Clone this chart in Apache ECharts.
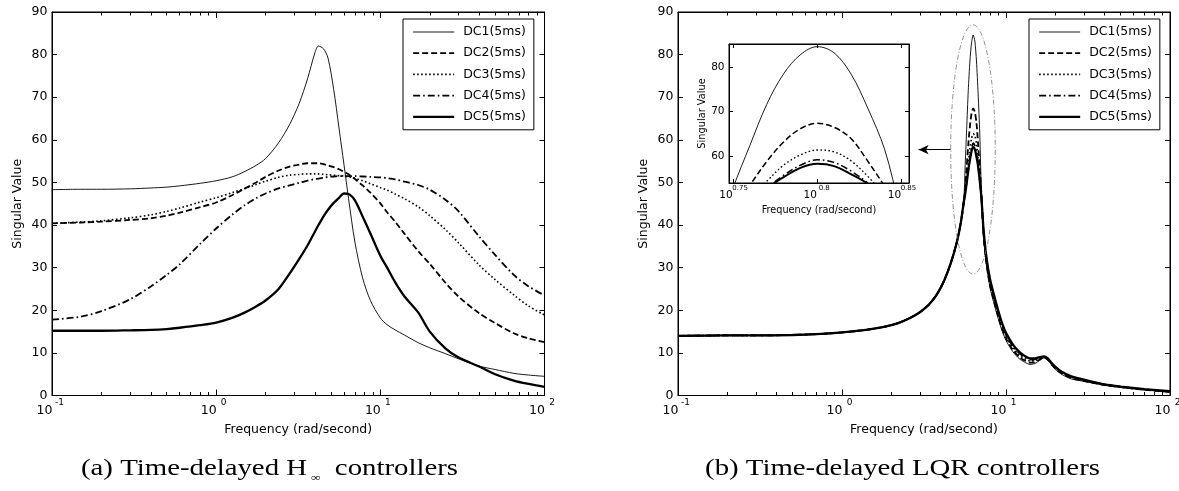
<!DOCTYPE html>
<html><head><meta charset="utf-8">
<script src="https://cdn.jsdelivr.net/npm/echarts@6/dist/echarts.min.js"></script>
<style>html,body{margin:0;padding:0;background:#fff}#c{width:1179px;height:491px}</style>
</head><body><div id="c"></div>
<script>
// ---------------- data ----------------
const seriesNames = ['DC1(5ms)', 'DC2(5ms)', 'DC3(5ms)', 'DC4(5ms)', 'DC5(5ms)'];

// (a) time-delayed H-infinity controllers
const freqA = [0.1, 0.15, 0.2, 0.3, 0.4, 0.5, 0.6, 0.8, 1, 1.25, 1.5, 1.75, 2, 2.4, 2.8, 3.2, 3.6, 4, 4.2, 4.5, 4.8, 5.2, 5.6, 6, 6.4, 7, 7.8, 8.7, 10, 11, 12.3, 14, 17, 20, 25, 30, 40, 50, 65, 80, 100];
const dc1A = [48.3, 48.4, 48.4, 48.5, 48.7, 48.9, 49.2, 49.8, 50.4, 51.3, 52.6, 54.0, 55.6, 59.3, 63.6, 68.5, 74.3, 80.5, 82.0, 81.4, 79.2, 71.8, 62.8, 54.3, 46.3, 36.0, 27.6, 22.3, 18.2, 16.6, 15.4, 14.2, 12.4, 11.2, 9.8, 8.6, 6.9, 6.1, 5.2, 4.8, 4.5];
const dc2A = [40.4, 40.6, 40.8, 41.2, 41.6, 42.2, 42.9, 44.2, 45.3, 47.0, 48.6, 50.0, 51.3, 52.8, 53.7, 54.2, 54.5, 54.5, 54.5, 54.3, 54.0, 53.6, 53.1, 52.5, 51.9, 50.8, 49.3, 47.6, 45.1, 43.0, 40.8, 38.0, 33.9, 30.9, 26.4, 23.2, 19.3, 17.0, 14.6, 13.4, 12.5];
const dc3A = [40.4, 40.7, 41.0, 41.7, 42.4, 43.2, 44.0, 45.4, 46.4, 47.6, 48.6, 49.5, 50.3, 51.2, 51.7, 51.9, 52.0, 52.0, 52.0, 51.9, 51.8, 51.7, 51.6, 51.5, 51.3, 51.0, 50.4, 49.7, 48.8, 48.2, 47.3, 46.2, 44.3, 42.2, 38.9, 35.8, 30.6, 27.2, 23.6, 21.0, 18.9];
const dc4A = [17.8, 18.5, 19.8, 22.6, 25.6, 28.3, 30.8, 35.6, 39.2, 42.4, 44.7, 46.3, 47.4, 48.6, 49.3, 49.9, 50.4, 50.8, 50.9, 51.1, 51.3, 51.4, 51.5, 51.5, 51.5, 51.5, 51.4, 51.3, 51.2, 51.0, 50.7, 50.2, 49.4, 48.3, 45.9, 43.2, 37.3, 33.0, 28.3, 25.6, 23.5];
const dc5A = [15.2, 15.2, 15.2, 15.3, 15.4, 15.6, 15.9, 16.5, 17.1, 18.2, 19.5, 20.9, 22.3, 25.0, 28.6, 32.0, 35.2, 38.5, 40.0, 42.0, 43.6, 45.2, 46.4, 47.4, 47.3, 45.8, 42.0, 38.0, 32.8, 30.0, 26.6, 23.3, 19.5, 15.0, 11.0, 8.9, 6.8, 5.0, 3.5, 2.7, 2.0];

// (b) time-delayed LQR controllers
const freqB = [0.1, 0.2, 0.3, 0.5, 0.7, 1, 1.4, 1.8, 2.2, 2.6, 3, 3.4, 3.8, 4.2, 4.6, 5, 5.3, 5.559, 5.623, 5.754, 5.888, 6.026, 6.166, 6.310, 6.457, 6.607, 6.761, 6.918, 7.079, 7.3, 7.6, 8, 8.5, 9, 9.5, 10, 11, 12, 13, 14, 15, 16, 17, 18, 19, 20, 22, 25, 30, 40, 50, 70, 100];
const dc1B = [14.0, 14.1, 14.1, 14.2, 14.4, 14.8, 15.4, 16.1, 17.0, 18.2, 19.6, 21.4, 23.8, 27.0, 31.0, 35.8, 40.5, 47.5, 52.9, 62.4, 71.6, 78.5, 82.8, 84.6, 83.2, 78.5, 70.8, 61.6, 48.0, 37.0, 30.5, 25.2, 21.2, 17.8, 15.0, 12.9, 10.3, 8.7, 7.8, 7.3, 7.5, 8.2, 8.8, 8.3, 7.1, 6.1, 4.9, 3.9, 3.3, 2.4, 1.9, 1.3, 0.8];
const dc2B = [14.0, 14.1, 14.1, 14.2, 14.4, 14.8, 15.4, 16.1, 17.0, 18.2, 19.6, 21.4, 23.8, 27.0, 31.0, 35.8, 40.5, 46.0, 48.3, 53.5, 58.8, 63.2, 66.2, 67.4, 66.5, 64.0, 58.9, 53.3, 47.5, 37.5, 31.0, 25.8, 21.8, 18.3, 15.5, 13.4, 10.7, 9.1, 8.2, 7.7, 7.8, 8.4, 8.9, 8.4, 7.3, 6.3, 5.1, 4.1, 3.4, 2.45, 1.95, 1.35, 0.85];
const dc3B = [14.0, 14.1, 14.1, 14.2, 14.4, 14.8, 15.4, 16.1, 17.0, 18.2, 19.6, 21.4, 23.8, 27.0, 31.0, 35.8, 40.5, 46.0, 47.6, 51.0, 54.4, 58.0, 60.3, 61.4, 61.0, 59.0, 55.5, 51.2, 47.0, 38.0, 31.5, 26.3, 22.3, 18.8, 16.0, 13.9, 11.2, 9.6, 8.6, 8.1, 8.2, 8.7, 9.0, 8.5, 7.4, 6.5, 5.3, 4.3, 3.5, 2.5, 2.0, 1.4, 0.9];
const dc4B = [14.0, 14.1, 14.1, 14.2, 14.4, 14.8, 15.4, 16.1, 17.0, 18.2, 19.6, 21.4, 23.8, 27.0, 31.0, 35.8, 40.5, 46.0, 47.2, 50.0, 53.0, 55.7, 58.0, 59.2, 58.6, 56.7, 54.0, 50.5, 46.5, 38.4, 32.0, 26.8, 22.8, 19.3, 16.4, 14.3, 11.6, 10.0, 9.0, 8.4, 8.5, 8.9, 9.1, 8.6, 7.5, 6.6, 5.4, 4.4, 3.6, 2.55, 2.05, 1.45, 0.95];
const dc5B = [14.0, 14.1, 14.1, 14.2, 14.4, 14.8, 15.4, 16.1, 17.0, 18.2, 19.6, 21.4, 23.8, 27.0, 31.0, 35.8, 40.5, 46.0, 47.0, 49.8, 52.8, 55.3, 57.4, 58.3, 57.8, 56.0, 53.8, 50.4, 46.5, 38.8, 32.4, 27.2, 23.2, 19.7, 16.8, 14.7, 12.0, 10.3, 9.3, 8.7, 8.7, 9.0, 9.2, 8.7, 7.6, 6.7, 5.5, 4.5, 3.7, 2.6, 2.1, 1.5, 1.0];

// axes / ticks
const xMajorTicks = [0.1, 1, 10, 100];
const xMinorTicks = [0.2, 0.3, 0.4, 0.5, 0.6, 0.7, 0.8, 0.9, 2, 3, 4, 5, 6, 7, 8, 9, 20, 30, 40, 50, 60, 70, 80, 90];
const insetXExponents = [0.75, 0.8, 0.85];
const insetXLogRange = [0.7476, 0.8545];
const insetYTicks = [60, 70, 80];
const insetYRange = [54, 85.2];

// annotations (data coordinates of chart b)
const ellipseSpec = { fLeft: 4.6, fRight: 8.6, vBottom: 28.5, vTop: 87 };
const arrowSpec = { fFrom: 4.6, fTo: 2.93, v: 57.7 };

const xTitle = 'Frequency (rad/second)';
const yTitle = 'Singular Value';
const captionA = ['(a) Time-delayed H', '∞', '  controllers'];
const captionB = '(b) Time-delayed LQR controllers';

// ---------------- chart ----------------
const FONT = 'DejaVu Sans';
const BLACK = '#000';
const lineStyles = [
  { width: 0.9, type: 'solid' },
  { width: 1.8, type: [6, 3] },
  { width: 1.6, type: [1.6, 2.4] },
  { width: 1.8, type: [7, 3, 1.6, 3] },
  { width: 2.3, type: 'solid' }
];
const setsA = [dc1A, dc2A, dc3A, dc4A, dc5A];
const setsB = [dc1B, dc2B, dc3B, dc4B, dc5B];
const pairs = (fr, vals) => fr.map((f, i) => [f, vals[i]]);

function supLabel(v) {
  const e = Math.round(Math.log10(v) * 100) / 100;
  return '{b|10}{e|' + e + '}';
}
const mainRich = {
  b: { fontSize: 12.5, fontFamily: FONT, color: BLACK, width: 15, align: 'right', lineHeight: 24 },
  e: { fontSize: 9, fontFamily: FONT, color: BLACK, width: 15, align: 'left', lineHeight: 9, verticalAlign: 'top' }
};
const insetRich = {
  b: { fontSize: 10.5, fontFamily: FONT, color: BLACK, width: 14, align: 'right', lineHeight: 22 },
  e: { fontSize: 7, fontFamily: FONT, color: BLACK, width: 14, align: 'left', lineHeight: 7, verticalAlign: 'top' }
};
const titleStyle = (size) => ({ fontSize: size, fontFamily: FONT, color: BLACK });

function xAxisSet(gridIndex, min, max, majors, minors, rich, margin, nameGap, nameSize, majLen, minLen) {
  const base = {
    type: 'log', logBase: 10, gridIndex, min, max,
    splitLine: { show: false }, minorTick: { show: false }, minorSplitLine: { show: false },
    axisLine: { show: true, onZero: false, lineStyle: { color: BLACK, width: 1 } }
  };
  const out = [];
  out.push(Object.assign({}, base, {
    position: 'bottom',
    axisTick: { show: true, inside: true, length: majLen, customValues: majors, lineStyle: { color: BLACK, width: 1 } },
    axisLabel: { show: true, customValues: majors, formatter: supLabel, rich, margin },
    name: xTitle, nameLocation: 'middle', nameGap, nameTextStyle: titleStyle(nameSize)
  }));
  out.push(Object.assign({}, base, {
    position: 'top',
    axisTick: { show: true, inside: true, length: majLen, customValues: majors, lineStyle: { color: BLACK, width: 1 } },
    axisLabel: { show: false }
  }));
  if (minors) {
    ['bottom', 'top'].forEach(p => out.push(Object.assign({}, base, {
      position: p,
      axisLine: { show: false, onZero: false },
      axisTick: { show: true, inside: true, length: minLen, customValues: minors, lineStyle: { color: BLACK, width: 1 } },
      axisLabel: { show: false }
    })));
  }
  return out;
}
function yAxisSet(gridIndex, min, max, interval, customTicks, fontSize, nameGap, nameSize, len) {
  const base = {
    type: 'value', gridIndex, min, max,
    splitLine: { show: false },
    axisLine: { show: true, onZero: false, lineStyle: { color: BLACK, width: 1 } },
    axisTick: { show: true, inside: true, length: len, lineStyle: { color: BLACK, width: 1 } }
  };
  if (interval) base.interval = interval;
  if (customTicks) base.axisTick.customValues = customTicks;
  const left = Object.assign({}, base, {
    position: 'left',
    axisLabel: { show: true, fontSize, fontFamily: FONT, color: BLACK, margin: 4.5 },
    name: yTitle, nameLocation: 'middle', nameGap, nameTextStyle: titleStyle(nameSize)
  });
  if (customTicks) left.axisLabel.customValues = customTicks;
  const right = Object.assign({}, base, { position: 'right', axisLabel: { show: false } });
  return [left, right];
}

const xAxes = [].concat(
  xAxisSet(0, 0.1, 100, xMajorTicks, xMinorTicks, mainRich, 3, 28, 12.5, 6, 3.5),          // 0..3
  xAxisSet(1, 0.1, 100, xMajorTicks, xMinorTicks, mainRich, 3, 28, 12.5, 6, 3.5),          // 4..7
  xAxisSet(2, Math.pow(10, insetXLogRange[0]), Math.pow(10, insetXLogRange[1]),
           insetXExponents.map(e => Math.pow(10, e)), null, insetRich, 1.5, 22, 9.7, 4, 0)   // 8..9
);
const yAxes = [].concat(
  yAxisSet(0, 0, 90, 10, null, 12.5, 28, 12.5, 5),       // 0,1
  yAxisSet(1, 0, 90, 10, null, 12.5, 28, 12.5, 5),       // 2,3
  yAxisSet(2, insetYRange[0], insetYRange[1], null, insetYTicks, 10.5, 20, 9.8, 4) // 4,5
);

const grids = [
  { left: 52, top: 12, width: 492.5, height: 383.5 },
  { left: 678, top: 12, width: 492, height: 383.5 },
  { left: 729, top: 44, width: 180, height: 139, backgroundColor: '#fff' }
].map(g => Object.assign({ show: true, borderColor: BLACK, borderWidth: 1, backgroundColor: 'transparent', containLabel: false, outerBoundsMode: 'none' }, g));

const series = [];
const order = [4, 3, 2, 1, 0];
order.forEach(i => {
  series.push({
    name: seriesNames[i], type: 'line', xAxisIndex: 0, yAxisIndex: 0,
    data: pairs(freqA, setsA[i]), symbol: 'none', showSymbol: false, smooth: 0.3,
    lineStyle: Object.assign({ color: BLACK }, lineStyles[i]), itemStyle: { color: BLACK },
    silent: true, emphasis: { disabled: true }
  });
});
order.forEach(i => {
  const s = {
    name: seriesNames[i], type: 'line', xAxisIndex: 4, yAxisIndex: 2,
    data: pairs(freqB, setsB[i]), symbol: 'none', showSymbol: false, smooth: 0.25,
    lineStyle: Object.assign({ color: BLACK }, lineStyles[i]), itemStyle: { color: BLACK },
    silent: true, emphasis: { disabled: true }
  };
  if (i === 0) {
    s.markLine = {
      silent: true, symbol: ['none', 'arrow'], symbolSize: [7, 10], animation: false,
      lineStyle: { color: BLACK, width: 1, type: 'solid' }, label: { show: false },
      emphasis: { disabled: true },
      data: [[{ coord: [arrowSpec.fFrom, arrowSpec.v] }, { coord: [arrowSpec.fTo, arrowSpec.v] }]]
    };
  }
  series.push(s);
});
order.forEach(i => {
  series.push({
    name: seriesNames[i], type: 'line', xAxisIndex: 8, yAxisIndex: 4, clip: true,
    data: pairs(freqB, setsB[i]), symbol: 'none', showSymbol: false, smooth: 0.35,
    lineStyle: Object.assign({ color: BLACK }, lineStyles[i], { width: Math.max(0.9, lineStyles[i].width * 0.85) }),
    itemStyle: { color: BLACK }, silent: true, emphasis: { disabled: true }
  });
});

const legendBase = {
  orient: 'vertical', top: 19, selectedMode: false,
  data: seriesNames.map((n, i) => ({ name: n, lineStyle: Object.assign({ color: BLACK }, lineStyles[i]) })),
  backgroundColor: '#fff', borderColor: BLACK, borderWidth: 1,
  padding: [6, 8, 6, 9], itemGap: 7.2, itemWidth: 41, itemHeight: 14,
  itemStyle: { opacity: 0, borderWidth: 0 },
  textStyle: { fontSize: 12.5, fontFamily: FONT, color: BLACK, lineHeight: 14, padding: [0, 0, 0, 4] }
};

const chart = echarts.init(document.getElementById('c'), null, { renderer: 'canvas' });
chart.setOption({
  backgroundColor: '#fff',
  animation: false,
  textStyle: { fontFamily: FONT },
  grid: grids,
  xAxis: xAxes,
  yAxis: yAxes,
  legend: [Object.assign({ left: 403 }, legendBase), Object.assign({ left: 1029 }, legendBase)],
  series
});

// ellipse annotation placed through the chart's own scales
const pA = chart.convertToPixel({ xAxisIndex: 4, yAxisIndex: 2 }, [ellipseSpec.fLeft, ellipseSpec.vTop]);
const pB = chart.convertToPixel({ xAxisIndex: 4, yAxisIndex: 2 }, [ellipseSpec.fRight, ellipseSpec.vBottom]);

const capRich = {
  t: { fontSize: 24, fontFamily: 'Liberation Serif', fill: BLACK, lineHeight: 30 },
  s: { fontSize: 11, fontFamily: 'Liberation Serif', fill: BLACK, lineHeight: 6, verticalAlign: 'bottom' }
};
chart.setOption({
  graphic: [
    {
      type: 'ellipse', z: 50, silent: true,
      shape: { cx: (pA[0] + pB[0]) / 2, cy: (pA[1] + pB[1]) / 2, rx: Math.abs(pB[0] - pA[0]) / 2, ry: Math.abs(pB[1] - pA[1]) / 2 },
      style: { fill: 'none', stroke: '#777', lineWidth: 0.8, lineDash: [5, 2, 1, 2] }
    },
    {
      type: 'text', x: 269.5, y: 469, scaleX: 1.2, silent: true,
      style: { text: '{t|' + captionA[0] + '} {s|' + captionA[1] + '}{t|' + captionA[2] + '}', rich: capRich, align: 'center', verticalAlign: 'middle', textAlign: 'center', textVerticalAlign: 'middle' }
    },
    {
      type: 'text', x: 902.5, y: 469, scaleX: 1.2, silent: true,
      style: { text: '{t|' + captionB + '}', rich: capRich, align: 'center', verticalAlign: 'middle', textAlign: 'center', textVerticalAlign: 'middle' }
    }
  ]
});
</script>
</body></html>
